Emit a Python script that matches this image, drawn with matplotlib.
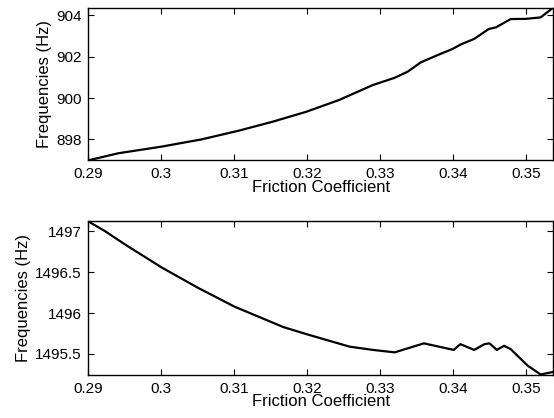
import matplotlib
matplotlib.use('Agg')
import matplotlib.pyplot as plt
from matplotlib.ticker import FuncFormatter

plt.rcParams['font.family'] = ['Liberation Sans', 'DejaVu Sans']
plt.rcParams['font.size'] = 11

# upper mode (Hz) vs friction coefficient
mu_top = [0.2900, 0.2941, 0.3000, 0.3055, 0.3107, 0.3153, 0.3199, 0.3244,
          0.3290, 0.3320, 0.3338, 0.3356, 0.3379, 0.3399, 0.3411, 0.3429,
          0.3449, 0.3459, 0.3479, 0.3500, 0.3520, 0.3537]
freq_top = [896.99, 897.33, 897.65, 898.00, 898.43, 898.86, 899.34, 899.91,
            900.63, 900.98, 901.28, 901.73, 902.08, 902.37, 902.60, 902.86,
            903.34, 903.42, 903.82, 903.83, 903.90, 904.36]

# lower mode (Hz) vs friction coefficient
mu_bot = [0.2900, 0.2923, 0.2950, 0.3000, 0.3050, 0.3100, 0.3167, 0.3200,
          0.3258, 0.3290, 0.3320, 0.3360, 0.3401, 0.3410, 0.3429, 0.3443,
          0.3450, 0.3460, 0.3470, 0.3479, 0.3502, 0.3520, 0.3537]
freq_bot = [1497.12, 1497.00, 1496.84, 1496.56, 1496.31, 1496.08, 1495.83,
            1495.74, 1495.59, 1495.55, 1495.52, 1495.63, 1495.55, 1495.62,
            1495.55, 1495.62, 1495.63, 1495.55, 1495.60, 1495.56, 1495.36,
            1495.25, 1495.28]

x_ticks = [0.29, 0.30, 0.31, 0.32, 0.33, 0.34, 0.35]


def style_axes(ax):
    ax.tick_params(direction='in', length=4, width=0.8, top=True, right=True, pad=5)
    for s in ax.spines.values():
        s.set_linewidth(1.0)
    ax.set_xticks(x_ticks)
    ax.xaxis.set_major_formatter(FuncFormatter(lambda v, p: f"{v:g}"))
    ax.yaxis.set_major_formatter(FuncFormatter(lambda v, p: f"{v:g}"))
    ax.set_xlim(0.29, 0.3537)
    ax.set_xlabel("Friction Coefficient", fontsize=12, labelpad=-1)
    ax.set_ylabel("Frequencies (Hz)", fontsize=12, labelpad=3)


fig = plt.figure(figsize=(5.54, 4.18), dpi=100)
ax1 = fig.add_axes([0.1596, 0.6165, 0.8385, 0.3651])
ax2 = fig.add_axes([0.1596, 0.1036, 0.8385, 0.3670])

ax1.plot(mu_top, freq_top, color='black', linewidth=1.6)
style_axes(ax1)
ax1.set_ylim(896.99, 904.37)
ax1.set_yticks([898, 900, 902, 904])

ax2.plot(mu_bot, freq_bot, color='black', linewidth=1.6)
style_axes(ax2)
ax2.set_ylim(1495.247, 1497.122)
ax2.set_yticks([1495.5, 1496, 1496.5, 1497])

fig.savefig('out.png', dpi=100)
